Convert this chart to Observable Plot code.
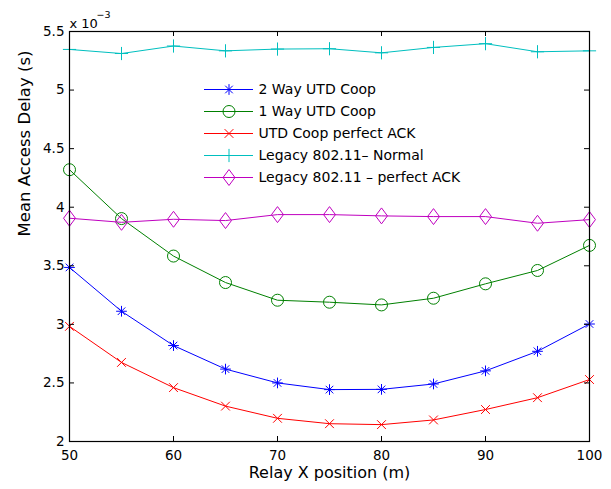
<!DOCTYPE html>
<html>
<head>
<meta charset="utf-8">
<script src="https://cdn.jsdelivr.net/npm/d3@7"></script>
<script src="https://cdn.jsdelivr.net/npm/@observablehq/plot@0.6"></script>
<style>
  html, body { margin: 0; padding: 0; background: #fff; }
  #chart { position: relative; width: 611px; height: 489px; }
  #legend { position: absolute; left: 190px; top: 70px; }
</style>
</head>
<body>
<div id="chart"><div id="legend"></div></div>
<script>
// Relay X position (m)
const relayX = [50, 55, 60, 65, 70, 75, 80, 85, 90, 95, 100];
// Mean access delay, in units of 10^-3 s
const twoWayCoop      = [3.486, 3.112, 2.819, 2.618, 2.500, 2.443, 2.445, 2.491, 2.603, 2.770, 3.003];
const oneWayCoop      = [4.320, 3.903, 3.583, 3.357, 3.206, 3.189, 3.166, 3.223, 3.346, 3.460, 3.674];
const coopPerfectAck  = [2.983, 2.675, 2.460, 2.302, 2.198, 2.152, 2.144, 2.184, 2.273, 2.374, 2.529];
const legacyNormal    = [5.347, 5.312, 5.376, 5.335, 5.350, 5.353, 5.318, 5.364, 5.396, 5.327, 5.335];
const legacyPerfect   = [3.906, 3.871, 3.897, 3.886, 3.937, 3.937, 3.926, 3.920, 3.920, 3.863, 3.894];

const seriesNames = ["2 Way UTD Coop", "1 Way UTD Coop", "UTD Coop perfect ACK", "Legacy 802.11\u2013 Normal", "Legacy 802.11 \u2013 perfect ACK"];
const seriesValues = [twoWayCoop, oneWayCoop, coopPerfectAck, legacyNormal, legacyPerfect];
const seriesColors = ["#0000ff", "#008000", "#ff0000", "#00bfbf", "#bf00bf"];

const xTicks = [50, 60, 70, 80, 90, 100];
const yTicks = [2, 2.5, 3, 3.5, 4, 4.5, 5, 5.5];
const xLabel = "Relay X position (m)";
const yLabel = "Mean Access Delay (s)";

// MATLAB-like marker shapes
const asterisk8 = {draw(ctx, size) {
  const r = Math.sqrt(size) * 0.55, d = r * Math.SQRT1_2;
  ctx.moveTo(-r, 0); ctx.lineTo(r, 0);
  ctx.moveTo(0, -r); ctx.lineTo(0, r);
  ctx.moveTo(-d, -d); ctx.lineTo(d, d);
  ctx.moveTo(-d, d); ctx.lineTo(d, -d);
}};
const timesSym = {draw(ctx, size) {
  const r = Math.sqrt(size) * 0.45;
  ctx.moveTo(-r, -r); ctx.lineTo(r, r);
  ctx.moveTo(-r, r); ctx.lineTo(r, -r);
}};
const plusSym = {draw(ctx, size) {
  const r = Math.sqrt(size) * 0.62;
  ctx.moveTo(-r, 0); ctx.lineTo(r, 0);
  ctx.moveTo(0, -r); ctx.lineTo(0, r);
}};
const diamondSym = {draw(ctx, size) {
  const h = Math.sqrt(size) * 0.75, w = Math.sqrt(size) * 0.56;
  ctx.moveTo(0, -h); ctx.lineTo(w, 0); ctx.lineTo(0, h); ctx.lineTo(-w, 0); ctx.closePath();
}};
const seriesSymbols = [asterisk8, "circle", timesSym, plusSym, diamondSym];
const seriesR = [5.5, 6, 5.5, 6, 6];

const series = seriesNames.map((name, i) => ({
  name, color: seriesColors[i], symbol: seriesSymbols[i], r: seriesR[i],
  rows: relayX.map((x, j) => ({x, y: seriesValues[i][j]}))
}));

const W = 611, H = 489, mL = 69, mR = 22, mT = 31, mB = 48;
const innerW = W - mL - mR, innerH = H - mT - mB;
const tickLen = 5;

const marks = [];
for (const s of series) {
  marks.push(Plot.line(s.rows, {x: "x", y: "y", stroke: s.color, strokeWidth: 1}));
  marks.push(Plot.dot(s.rows, {x: "x", y: "y", stroke: s.color, fill: "none", symbol: s.symbol, r: s.r, strokeWidth: 1}));
}
marks.push(
  Plot.tickX(xTicks, {x: d => d, stroke: "black", insetTop: innerH - tickLen}),
  Plot.tickX(xTicks, {x: d => d, stroke: "black", insetBottom: innerH - tickLen}),
  Plot.tickY(yTicks, {y: d => d, stroke: "black", insetRight: innerW - tickLen}),
  Plot.tickY(yTicks, {y: d => d, stroke: "black", insetLeft: innerW - tickLen}),
  Plot.frame({stroke: "black", strokeWidth: 1.2}),
  Plot.axisX(xTicks, {tickSize: 0, tickPadding: 9, label: null, fontSize: 13.5, fill: "black", tickFormat: d => String(d)}),
  Plot.axisY(yTicks, {tickSize: 0, tickPadding: 5, label: null, fontSize: 13.5, fill: "black", tickFormat: d => String(d)}),
  Plot.text([xLabel], {text: d => d, frameAnchor: "bottom", dy: 36, fontSize: 16, fill: "black"}),
  Plot.text([yLabel], {text: d => d, frameAnchor: "left", dx: -45, rotate: -90, fontSize: 16.5, fill: "black"}),
  Plot.text(["x 10"], {text: d => d, frameAnchor: "top-left", textAnchor: "start", dy: -13, fontSize: 13, fill: "black"}),
  Plot.text(["\u22123"], {text: d => d, frameAnchor: "top-left", textAnchor: "start", dx: 27, dy: -20, fontSize: 9.5, fill: "black"})
);

const chart = Plot.plot({
  width: W, height: H,
  marginLeft: mL, marginRight: mR, marginTop: mT, marginBottom: mB,
  x: {domain: [50, 100], axis: null},
  y: {domain: [2, 5.5], axis: null},
  style: {fontFamily: "DejaVu Sans", fontSize: "13.5px", background: "white", color: "black"},
  marks
});
document.getElementById("chart").insertBefore(chart, document.getElementById("legend"));

// Legend (drawn as a small overlaid Plot)
const LW = 290, LH = 125;
const legendMarks = [];
for (const s of series) {
  legendMarks.push(Plot.ruleY([s.name], {y: d => d, x1: 0, x2: 1, stroke: s.color, strokeWidth: 1}));
  legendMarks.push(Plot.dot([s.name], {y: d => d, x: 0.5, stroke: s.color, fill: "none", symbol: s.symbol, r: s.r, strokeWidth: 1}));
  legendMarks.push(Plot.text([s.name], {y: d => d, x: 1, text: d => d, textAnchor: "start", dx: 5, fontSize: 14, fill: "black"}));
}
const legend = Plot.plot({
  width: LW, height: LH,
  marginLeft: 14, marginRight: LW - 63, marginTop: 18, marginBottom: 18,
  x: {domain: [0, 1], axis: null},
  y: {type: "point", domain: seriesNames, padding: 0, axis: null},
  style: {fontFamily: "DejaVu Sans", fontSize: "14px", background: "transparent", overflow: "visible"},
  marks: legendMarks
});
document.getElementById("legend").appendChild(legend);
</script>
</body>
</html>
